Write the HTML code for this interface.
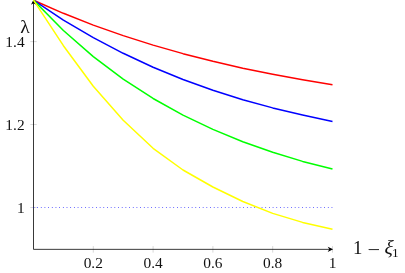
<!DOCTYPE html>
<html><head><meta charset="utf-8"><style>
html,body{margin:0;padding:0;background:#fff;}
svg{display:block;will-change:transform;}
text{font-family:"Liberation Serif",serif;font-size:15.4px;fill:#111;}
</style></head><body>
<svg width="405" height="273" viewBox="0 0 405 273">
<rect width="405" height="273" fill="#fff"/>
<line x1="93.30" y1="246.1" x2="93.30" y2="252.6" stroke="#808080" stroke-width="0.31"/>
<line x1="153.10" y1="246.1" x2="153.10" y2="252.6" stroke="#808080" stroke-width="0.31"/>
<line x1="212.90" y1="246.1" x2="212.90" y2="252.6" stroke="#808080" stroke-width="0.31"/>
<line x1="272.70" y1="246.1" x2="272.70" y2="252.6" stroke="#808080" stroke-width="0.31"/>
<line x1="332.50" y1="246.1" x2="332.50" y2="252.6" stroke="#808080" stroke-width="0.31"/>
<line x1="30.3" y1="41.6" x2="36.7" y2="41.6" stroke="#808080" stroke-width="0.31"/>
<line x1="30.3" y1="124.5" x2="36.7" y2="124.5" stroke="#808080" stroke-width="0.31"/>
<line x1="30.3" y1="207.5" x2="36.7" y2="207.5" stroke="#808080" stroke-width="0.31"/>

<line x1="33.5" y1="249.35" x2="330" y2="249.35" stroke="#000" stroke-width="0.78"/>
<path d="M333.1,249.35 L327.7,246.75 L329.3,249.35 L327.7,251.95 Z" fill="#000"/>
<line x1="33.5" y1="249.35" x2="33.5" y2="2.5" stroke="#000" stroke-width="0.78"/>
<path d="M33.5,-0.4 L31,4.8 L33.5,3.2 L36,4.8 Z" fill="#000"/>
<line x1="33.5" y1="207.5" x2="332.5" y2="207.5" stroke="#0000ff" stroke-width="0.75" stroke-dasharray="0.75 2.93"/>
<path d="M33.50,0.20 L63.40,13.32 L93.30,25.09 L123.20,35.65 L153.10,45.14 L183.00,53.65 L212.90,61.29 L242.80,68.15 L272.70,74.30 L302.60,79.83 L332.50,84.85" fill="none" stroke="#ff0000" stroke-width="1.5" stroke-linejoin="round"/>
<path d="M33.50,0.20 L63.40,20.10 L93.30,37.68 L123.20,53.30 L153.10,67.20 L183.00,79.50 L212.90,90.30 L242.80,99.70 L272.70,107.90 L302.60,115.00 L332.50,121.50" fill="none" stroke="#0000ff" stroke-width="1.5" stroke-linejoin="round"/>
<path d="M33.50,0.20 L63.40,30.56 L93.30,56.68 L123.20,79.15 L153.10,98.48 L183.00,115.12 L212.90,129.42 L242.80,141.73 L272.70,152.32 L302.60,161.40 L332.50,168.90" fill="none" stroke="#00ff00" stroke-width="1.5" stroke-linejoin="round"/>
<path d="M33.50,0.20 L63.40,45.70 L93.30,86.30 L123.20,120.30 L153.10,148.30 L183.00,170.00 L212.90,187.00 L242.80,201.50 L272.70,213.40 L302.60,222.40 L332.50,229.15" fill="none" stroke="#ffff00" stroke-width="1.5" stroke-linejoin="round"/>

<text x="93.30" y="268.2" text-anchor="middle">0.2</text>
<text x="153.10" y="268.2" text-anchor="middle">0.4</text>
<text x="212.90" y="268.2" text-anchor="middle">0.6</text>
<text x="272.70" y="268.2" text-anchor="middle">0.8</text>
<text x="332.50" y="268.2" text-anchor="middle">1</text>
<text x="24.6" y="46.60" text-anchor="end">1.4</text>
<text x="24.6" y="129.50" text-anchor="end">1.2</text>
<text x="24.6" y="212.50" text-anchor="end">1</text>

<text x="20.3" y="32.9" style="font-size:19.5px">λ</text>
<text x="352.9" y="254.3" style="font-size:18.8px">1</text>
<text x="367.5" y="255.7" style="font-size:18.6px" textLength="12.6" lengthAdjust="spacingAndGlyphs">−</text>
<text x="0" y="0" transform="translate(384.3,254.4) skewX(-4)" style="font-size:20px;font-style:italic">ξ</text>
<text x="392.0" y="256.9" style="font-size:13.4px">1</text>
</svg>
</body></html>
